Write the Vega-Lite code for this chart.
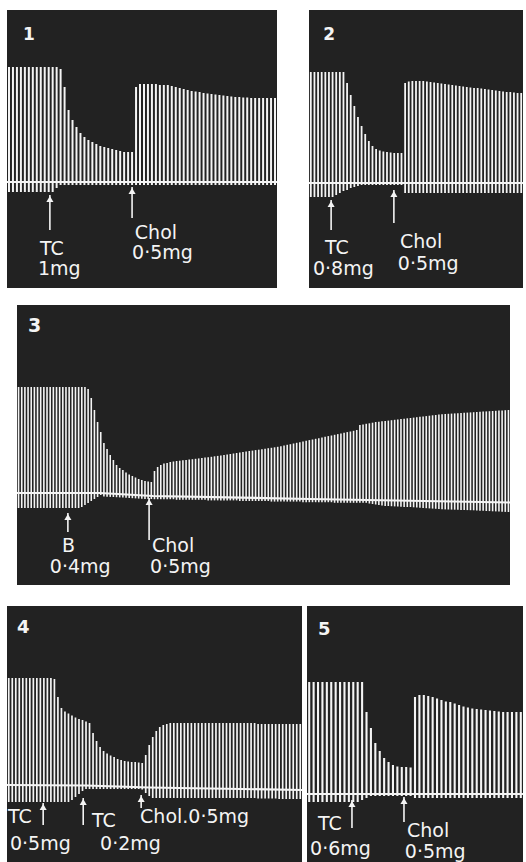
{
  "$schema": "https://vega.github.io/schema/vega-lite/v6.json",
  "background": "white",
  "padding": {"left": 7, "top": 10, "right": 0, "bottom": 0},
  "config": {"view": {"stroke": null, "fill": "#222222"}},
  "spacing": 17,
  "datasets": {
    "s1": [
      {"n":0,"t":115,"b":-10},{"n":1,"t":115,"b":-10},{"n":2,"t":115,"b":-10},{"n":3,"t":115,"b":-10},{"n":4,"t":115,"b":-10},{"n":5,"t":115,"b":-10},{"n":6,"t":115,"b":-10},{"n":7,"t":115,"b":-10},{"n":8,"t":115,"b":-10},{"n":9,"t":115,"b":-10},{"n":10,"t":115,"b":-10},{"n":11,"t":115,"b":-10},{"n":12,"t":115,"b":-6},{"n":13,"t":113,"b":-3},{"n":14,"t":95,"b":-3},{"n":15,"t":72,"b":-3},{"n":16,"t":62,"b":-3},{"n":17,"t":55,"b":-3},{"n":18,"t":49,"b":-3},{"n":19,"t":45,"b":-3},{"n":20,"t":42,"b":-3},{"n":21,"t":40,"b":-3},{"n":22,"t":38,"b":-3},{"n":23,"t":36,"b":-3},{"n":24,"t":35,"b":-3},{"n":25,"t":34,"b":-3},{"n":26,"t":33,"b":-3},{"n":27,"t":32,"b":-3},{"n":28,"t":31,"b":-3},{"n":29,"t":30,"b":-3},{"n":30,"t":30,"b":-3},{"n":31,"t":30,"b":-3},{"n":32,"t":95,"b":-3},{"n":33,"t":98,"b":-3},{"n":34,"t":98,"b":-3},{"n":35,"t":98,"b":-3},{"n":36,"t":98,"b":-3},{"n":37,"t":98,"b":-3},{"n":38,"t":97,"b":-3},{"n":39,"t":97,"b":-3},{"n":40,"t":97,"b":-3},{"n":41,"t":96,"b":-3},{"n":42,"t":95,"b":-3},{"n":43,"t":94,"b":-3},{"n":44,"t":93,"b":-3},{"n":45,"t":92,"b":-3},{"n":46,"t":91,"b":-3},{"n":47,"t":90.5,"b":-3},{"n":48,"t":90,"b":-3},{"n":49,"t":89,"b":-3},{"n":50,"t":88.5,"b":-3},{"n":51,"t":88,"b":-3},{"n":52,"t":87.5,"b":-3},{"n":53,"t":87,"b":-3},{"n":54,"t":86.5,"b":-3},{"n":55,"t":86,"b":-3},{"n":56,"t":85.5,"b":-3},{"n":57,"t":85,"b":-3},{"n":58,"t":85,"b":-3},{"n":59,"t":84.5,"b":-3},{"n":60,"t":84.5,"b":-3},{"n":61,"t":84,"b":-3},{"n":62,"t":84,"b":-3},{"n":63,"t":84,"b":-3},{"n":64,"t":84,"b":-3},{"n":65,"t":84,"b":-3},{"n":66,"t":84,"b":-3},{"n":67,"t":84,"b":-3}
    ],
    "s2": [
      {"n":0,"t":111,"b":-14},{"n":1,"t":111,"b":-14},{"n":2,"t":111,"b":-14},{"n":3,"t":111,"b":-14},{"n":4,"t":111,"b":-14},{"n":5,"t":111,"b":-14},{"n":6,"t":111,"b":-14},{"n":7,"t":111,"b":-12},{"n":8,"t":111,"b":-10},{"n":9,"t":111,"b":-8},{"n":10,"t":100,"b":-7},{"n":11,"t":88,"b":-5},{"n":12,"t":77,"b":-4},{"n":13,"t":66,"b":-3},{"n":14,"t":57,"b":-2},{"n":15,"t":49,"b":-2},{"n":16,"t":42,"b":-2},{"n":17,"t":37,"b":-2},{"n":18,"t":34,"b":-2},{"n":19,"t":32.5,"b":-2},{"n":20,"t":31.5,"b":-2},{"n":21,"t":31,"b":-2},{"n":22,"t":30.5,"b":-2},{"n":23,"t":30,"b":-2},{"n":24,"t":30,"b":-2},{"n":25,"t":30,"b":-2},{"n":26,"t":100,"b":-10},{"n":27,"t":101.5,"b":-10},{"n":28,"t":102,"b":-10},{"n":29,"t":102,"b":-10},{"n":30,"t":102,"b":-10},{"n":31,"t":102,"b":-10},{"n":32,"t":101.5,"b":-10},{"n":33,"t":101,"b":-10},{"n":34,"t":100.5,"b":-10},{"n":35,"t":100,"b":-10},{"n":36,"t":99.5,"b":-10},{"n":37,"t":99,"b":-10},{"n":38,"t":98.5,"b":-10},{"n":39,"t":98,"b":-10},{"n":40,"t":97.5,"b":-10},{"n":41,"t":97,"b":-10},{"n":42,"t":96.5,"b":-10},{"n":43,"t":96,"b":-10},{"n":44,"t":95.5,"b":-10},{"n":45,"t":95,"b":-10},{"n":46,"t":95,"b":-10},{"n":47,"t":94.5,"b":-10},{"n":48,"t":94,"b":-10},{"n":49,"t":93.5,"b":-10},{"n":50,"t":93,"b":-10},{"n":51,"t":92.5,"b":-10},{"n":52,"t":92,"b":-10},{"n":53,"t":91.5,"b":-10},{"n":54,"t":91,"b":-10},{"n":55,"t":91,"b":-10},{"n":56,"t":90.5,"b":-10},{"n":57,"t":90,"b":-10},{"n":58,"t":90,"b":-10}
    ],
    "s3": [
      {"n":0,"t":106,"b":-15},{"n":1,"t":106,"b":-15},{"n":2,"t":106,"b":-15},{"n":3,"t":106,"b":-15},{"n":4,"t":106,"b":-15},{"n":5,"t":106,"b":-15},{"n":6,"t":106,"b":-15},{"n":7,"t":106,"b":-15},{"n":8,"t":106,"b":-15},{"n":9,"t":106,"b":-15},{"n":10,"t":106,"b":-15},{"n":11,"t":106,"b":-15},{"n":12,"t":106,"b":-15},{"n":13,"t":106,"b":-15},{"n":14,"t":106,"b":-15},{"n":15,"t":106,"b":-15},{"n":16,"t":106,"b":-15},{"n":17,"t":106,"b":-15},{"n":18,"t":106,"b":-15},{"n":19,"t":106,"b":-15},{"n":20,"t":106,"b":-14},{"n":21,"t":106,"b":-12},{"n":22,"t":104,"b":-10},{"n":23,"t":95,"b":-8},{"n":24,"t":83,"b":-6},{"n":25,"t":71,"b":-4},{"n":26,"t":61,"b":-2},{"n":27,"t":50,"b":-3.5},{"n":28,"t":44,"b":-3.7},{"n":29,"t":38,"b":-3.9},{"n":30,"t":33,"b":-4},{"n":31,"t":28,"b":-4.2},{"n":32,"t":25,"b":-4.4},{"n":33,"t":23,"b":-4.6},{"n":34,"t":20.5,"b":-4.8},{"n":35,"t":18.5,"b":-5},{"n":36,"t":17,"b":-5.2},{"n":37,"t":15.5,"b":-5.4},{"n":38,"t":14,"b":-5.6},{"n":39,"t":13,"b":-5.8},{"n":40,"t":12,"b":-5.9},{"n":41,"t":11.5,"b":-6},{"n":42,"t":11,"b":-6},{"n":43,"t":22,"b":-6.2},{"n":44,"t":26,"b":-6.2},{"n":45,"t":28,"b":-6.2},{"n":46,"t":29.5,"b":-6.2},{"n":47,"t":30,"b":-6.2},{"n":48,"t":31,"b":-6.2},{"n":49,"t":31.5,"b":-6.2},{"n":50,"t":32,"b":-6.8},{"n":51,"t":32.3,"b":-6.8},{"n":52,"t":32.7,"b":-6.8},{"n":53,"t":33,"b":-6.8},{"n":54,"t":33.5,"b":-6.8},{"n":55,"t":33.8,"b":-6.8},{"n":56,"t":34.2,"b":-6.8},{"n":57,"t":34.6,"b":-6.8},{"n":58,"t":35,"b":-6.8},{"n":59,"t":35.4,"b":-6.8},{"n":60,"t":35.8,"b":-7.4},{"n":61,"t":36.2,"b":-7.4},{"n":62,"t":36.7,"b":-7.4},{"n":63,"t":37.1,"b":-7.4},{"n":64,"t":37.6,"b":-7.4},{"n":65,"t":38,"b":-7.4},{"n":66,"t":38.5,"b":-7.4},{"n":67,"t":39,"b":-7.4},{"n":68,"t":39.5,"b":-7.4},{"n":69,"t":40,"b":-7.4},{"n":70,"t":40.5,"b":-8},{"n":71,"t":41,"b":-8},{"n":72,"t":41.5,"b":-8},{"n":73,"t":42,"b":-8},{"n":74,"t":42.4,"b":-8},{"n":75,"t":42.9,"b":-8},{"n":76,"t":43.3,"b":-8},{"n":77,"t":43.8,"b":-8},{"n":78,"t":44.3,"b":-8},{"n":79,"t":44.8,"b":-8},{"n":80,"t":45.2,"b":-8.6},{"n":81,"t":45.7,"b":-8.6},{"n":82,"t":46.2,"b":-8.6},{"n":83,"t":46.8,"b":-8.6},{"n":84,"t":47.5,"b":-8.6},{"n":85,"t":48.2,"b":-8.6},{"n":86,"t":48.8,"b":-8.6},{"n":87,"t":49.5,"b":-8.6},{"n":88,"t":50.2,"b":-8.6},{"n":89,"t":50.8,"b":-8.6},{"n":90,"t":51.5,"b":-9.2},{"n":91,"t":52.2,"b":-9.2},{"n":92,"t":52.9,"b":-9.2},{"n":93,"t":53.5,"b":-9.2},{"n":94,"t":54.2,"b":-9.2},{"n":95,"t":54.8,"b":-9.2},{"n":96,"t":55.5,"b":-9.2},{"n":97,"t":56.2,"b":-9.2},{"n":98,"t":56.9,"b":-9.2},{"n":99,"t":57.5,"b":-9.2},{"n":100,"t":58.2,"b":-9.8},{"n":101,"t":58.9,"b":-9.8},{"n":102,"t":59.6,"b":-9.8},{"n":103,"t":60.2,"b":-9.8},{"n":104,"t":60.9,"b":-9.8},{"n":105,"t":61.5,"b":-9.8},{"n":106,"t":62.2,"b":-9.8},{"n":107,"t":63,"b":-9.8},{"n":108,"t":68,"b":-9.8},{"n":109,"t":68.6,"b":-9.8},{"n":110,"t":69.2,"b":-9.8},{"n":111,"t":69.7,"b":-10.5},{"n":112,"t":70.3,"b":-11},{"n":113,"t":71,"b":-11.5},{"n":114,"t":71.3,"b":-12},{"n":115,"t":71.7,"b":-12.5},{"n":116,"t":72,"b":-13},{"n":117,"t":72.4,"b":-13},{"n":118,"t":72.8,"b":-13.2},{"n":119,"t":73.2,"b":-13.4},{"n":120,"t":73.6,"b":-13.6},{"n":121,"t":73.9,"b":-13.8},{"n":122,"t":74.3,"b":-14},{"n":123,"t":74.7,"b":-14},{"n":124,"t":75,"b":-14},{"n":125,"t":75.4,"b":-14.3},{"n":126,"t":75.8,"b":-14.5},{"n":127,"t":76.2,"b":-14.7},{"n":128,"t":76.5,"b":-15},{"n":129,"t":76.9,"b":-15.2},{"n":130,"t":77.3,"b":-15.4},{"n":131,"t":77.7,"b":-15.6},{"n":132,"t":78,"b":-15.8},{"n":133,"t":78.4,"b":-16},{"n":134,"t":78.8,"b":-16.2},{"n":135,"t":79,"b":-16.4},{"n":136,"t":79.2,"b":-16.5},{"n":137,"t":79.4,"b":-16.6},{"n":138,"t":79.6,"b":-16.7},{"n":139,"t":79.8,"b":-16.8},{"n":140,"t":80,"b":-16.9},{"n":141,"t":80.2,"b":-17},{"n":142,"t":80.4,"b":-17.1},{"n":143,"t":80.6,"b":-17.2},{"n":144,"t":80.8,"b":-17.3},{"n":145,"t":81,"b":-17.5},{"n":146,"t":81.2,"b":-17.7},{"n":147,"t":81.4,"b":-17.8},{"n":148,"t":81.6,"b":-18},{"n":149,"t":81.8,"b":-18.1},{"n":150,"t":82,"b":-18.3},{"n":151,"t":82.2,"b":-18.4},{"n":152,"t":82.4,"b":-18.6},{"n":153,"t":82.6,"b":-18.7},{"n":154,"t":82.8,"b":-18.9},{"n":155,"t":83,"b":-19}
    ],
    "s4": [
      {"n":0,"t":107,"b":-17},{"n":1,"t":107,"b":-17},{"n":2,"t":107,"b":-17},{"n":3,"t":107,"b":-17},{"n":4,"t":107,"b":-17},{"n":5,"t":107,"b":-17},{"n":6,"t":107,"b":-17},{"n":7,"t":107,"b":-17},{"n":8,"t":107,"b":-17},{"n":9,"t":107,"b":-17},{"n":10,"t":107,"b":-17},{"n":11,"t":107,"b":-17},{"n":12,"t":107,"b":-17},{"n":13,"t":106,"b":-17},{"n":14,"t":88,"b":-17},{"n":15,"t":77,"b":-17},{"n":16,"t":73.5,"b":-17},{"n":17,"t":71.5,"b":-17},{"n":18,"t":69.5,"b":-15},{"n":19,"t":67.5,"b":-12},{"n":20,"t":66,"b":-9},{"n":21,"t":65,"b":-6},{"n":22,"t":63.5,"b":-4},{"n":23,"t":62,"b":-4},{"n":24,"t":52,"b":-4},{"n":25,"t":44,"b":-4},{"n":26,"t":38,"b":-4},{"n":27,"t":34,"b":-4},{"n":28,"t":31.5,"b":-4},{"n":29,"t":29.5,"b":-4},{"n":30,"t":28,"b":-4},{"n":31,"t":26,"b":-4},{"n":32,"t":25,"b":-4},{"n":33,"t":24,"b":-4},{"n":34,"t":23.5,"b":-4},{"n":35,"t":23,"b":-4},{"n":36,"t":23,"b":-4},{"n":37,"t":22.5,"b":-4},{"n":38,"t":22,"b":-4.5},{"n":39,"t":30,"b":-8},{"n":40,"t":40,"b":-11},{"n":41,"t":48,"b":-13},{"n":42,"t":54,"b":-13},{"n":43,"t":58,"b":-13},{"n":44,"t":60,"b":-13},{"n":45,"t":61,"b":-13},{"n":46,"t":62,"b":-13},{"n":47,"t":62,"b":-13},{"n":48,"t":62,"b":-13},{"n":49,"t":62,"b":-13},{"n":50,"t":62,"b":-13},{"n":51,"t":62,"b":-13},{"n":52,"t":62,"b":-13},{"n":53,"t":62,"b":-13},{"n":54,"t":62,"b":-13},{"n":55,"t":62,"b":-13},{"n":56,"t":62,"b":-13},{"n":57,"t":62,"b":-13},{"n":58,"t":62,"b":-13},{"n":59,"t":62,"b":-13},{"n":60,"t":62,"b":-13},{"n":61,"t":62,"b":-13},{"n":62,"t":62,"b":-13},{"n":63,"t":62,"b":-13},{"n":64,"t":62,"b":-13},{"n":65,"t":62,"b":-13},{"n":66,"t":62,"b":-13},{"n":67,"t":62,"b":-13},{"n":68,"t":62,"b":-13},{"n":69,"t":62,"b":-13},{"n":70,"t":62,"b":-13},{"n":71,"t":61,"b":-13.5},{"n":72,"t":61,"b":-13.5},{"n":73,"t":61,"b":-13.5},{"n":74,"t":61,"b":-13.5},{"n":75,"t":61,"b":-13.5},{"n":76,"t":61,"b":-13.5},{"n":77,"t":61,"b":-14},{"n":78,"t":61,"b":-14},{"n":79,"t":61,"b":-14},{"n":80,"t":61,"b":-14},{"n":81,"t":61,"b":-14},{"n":82,"t":61,"b":-14},{"n":83,"t":61,"b":-14}
    ],
    "s5": [
      {"n":0,"t":112,"b":-8},{"n":1,"t":112,"b":-8},{"n":2,"t":112,"b":-8},{"n":3,"t":112,"b":-8},{"n":4,"t":112,"b":-8},{"n":5,"t":112,"b":-8},{"n":6,"t":112,"b":-8},{"n":7,"t":112,"b":-8},{"n":8,"t":112,"b":-8},{"n":9,"t":112,"b":-8},{"n":10,"t":112,"b":-8},{"n":11,"t":112,"b":-8},{"n":12,"t":112,"b":-6},{"n":13,"t":82,"b":-4},{"n":14,"t":66,"b":-2},{"n":15,"t":51,"b":-2},{"n":16,"t":43,"b":-2},{"n":17,"t":36,"b":-2},{"n":18,"t":32,"b":-2},{"n":19,"t":29,"b":-2},{"n":20,"t":27.5,"b":-2},{"n":21,"t":27,"b":-2},{"n":22,"t":27,"b":-2},{"n":23,"t":26.5,"b":-2},{"n":24,"t":97,"b":-4},{"n":25,"t":99,"b":-4},{"n":26,"t":99,"b":-4},{"n":27,"t":98,"b":-4},{"n":28,"t":97,"b":-4},{"n":29,"t":95.5,"b":-4},{"n":30,"t":94,"b":-4},{"n":31,"t":92.5,"b":-4},{"n":32,"t":92,"b":-4},{"n":33,"t":90.5,"b":-4},{"n":34,"t":89,"b":-4},{"n":35,"t":87.5,"b":-4},{"n":36,"t":86.5,"b":-4},{"n":37,"t":85.5,"b":-4},{"n":38,"t":85,"b":-4},{"n":39,"t":84.5,"b":-4},{"n":40,"t":84,"b":-4},{"n":41,"t":83.5,"b":-4},{"n":42,"t":83,"b":-4},{"n":43,"t":82.5,"b":-4},{"n":44,"t":82,"b":-4},{"n":45,"t":82,"b":-4},{"n":46,"t":82,"b":-4},{"n":47,"t":82,"b":-4},{"n":48,"t":82,"b":-4}
    ],
    "base1": [{"n":-0.5,"t":0},{"n":67.5,"t":0}],
    "base2": [{"n":-0.5,"t":0},{"n":58.5,"t":0}],
    "base3": [{"n":-0.5,"t":0},{"n":25.8,"t":0},{"n":42.5,"t":-3},{"n":92.2,"t":-6},{"n":155.5,"t":-9.5}],
    "base4": [{"n":-0.5,"t":0},{"n":22,"t":-0.5},{"n":40,"t":-2.5},{"n":83.5,"t":-5}],
    "base5": [{"n":-0.5,"t":0},{"n":48.5,"t":0}],
    "arr1": [{"n":10.3,"t":-13,"b":-48},{"n":31.0,"t":-5,"b":-36}],
    "arr2": [{"n":5.6,"t":-17,"b":-47},{"n":22.9,"t":-7,"b":-40}],
    "arr3": [{"n":15.6,"t":-20,"b":-39},{"n":41.3,"t":-5,"b":-47}],
    "arr4": [{"n":9.8,"t":-18,"b":-40},{"n":21.2,"t":-13,"b":-40},{"n":37.7,"t":-10,"b":-23}],
    "arr5": [{"n":9.7,"t":-6,"b":-34},{"n":21.5,"t":-3,"b":-28}],
    "lab1": [{"n":7.8,"t":-73,"label":"TC"},{"n":7.3,"t":-93,"label":"1mg"},{"n":31.7,"t":-57,"label":"Chol"},{"n":31.0,"t":-77,"label":"0·5mg"}],
    "lab2": [{"n":3.9,"t":-71,"label":"TC"},{"n":0.6,"t":-92,"label":"0·8mg"},{"n":24.6,"t":-65,"label":"Chol"},{"n":24.0,"t":-87,"label":"0·5mg"}],
    "lab3": [{"n":13.7,"t":-59,"label":"B"},{"n":9.9,"t":-80,"label":"0·4mg"},{"n":42.2,"t":-59,"label":"Chol"},{"n":41.6,"t":-80,"label":"0·5mg"}],
    "lab4": [{"n":-0.2,"t":-38,"label":"TC"},{"n":23.7,"t":-42,"label":"TC"},{"n":37.4,"t":-38,"label":"Chol.0·5mg"},{"n":0.35,"t":-65,"label":"0·5mg"},{"n":26,"t":-65,"label":"0·2mg"}],
    "lab5": [{"n":2.0,"t":-36,"label":"TC"},{"n":0.2,"t":-61,"label":"0·6mg"},{"n":22.2,"t":-43,"label":"Chol"},{"n":21.7,"t":-64,"label":"0·5mg"}],
    "num1": [{"n":3.5,"t":142,"label":"1"}],
    "num2": [{"n":3.4,"t":143,"label":"2"}],
    "num3": [{"n":3.0,"t":161,"label":"3"}],
    "num4": [{"n":2.35,"t":152,"label":"4"}],
    "num5": [{"n":2.0,"t":159,"label":"5"}]
  },
  "vconcat": [
    {
      "spacing": 32,
      "bounds": "flush",
      "hconcat": [
        {
          "width": 270, "height": 278,
          "encoding": {
            "x": {"field": "n", "type": "quantitative", "scale": {"domain": [-0.5, 67.5], "nice": false, "zero": false}, "axis": null},
            "y": {"field": "t", "type": "quantitative", "scale": {"domain": [-106, 172], "nice": false, "zero": false}, "axis": null}
          },
          "layer": [
            {"data": {"name": "s1"}, "mark": {"type": "rule", "color": "#f4f4f4", "strokeWidth": 2}, "encoding": {"y2": {"field": "b"}}},
            {"data": {"name": "base1"}, "mark": {"type": "line", "color": "#f4f4f4", "strokeWidth": 2.2, "clip": true}, "encoding": {}},
            {"data": {"name": "arr1"}, "mark": {"type": "rule", "color": "#f4f4f4", "strokeWidth": 1.6}, "encoding": {"y2": {"field": "b"}}},
            {"data": {"name": "arr1"}, "mark": {"type": "point", "shape": "triangle-up", "filled": true, "size": 50, "color": "#f4f4f4", "opacity": 1, "yOffset": 4}, "encoding": {}},
            {"data": {"name": "lab1"}, "mark": {"type": "text", "color": "#f4f4f4", "font": "DejaVu Sans", "fontSize": 19, "align": "left", "baseline": "alphabetic"}, "encoding": {"text": {"field": "label"}}},
            {"data": {"name": "num1"}, "mark": {"type": "text", "color": "#f4f4f4", "font": "DejaVu Sans", "fontSize": 17, "fontWeight": "bold", "align": "left", "baseline": "alphabetic"}, "encoding": {"text": {"field": "label"}}}
          ]
        },
        {
          "width": 214, "height": 278,
          "encoding": {
            "x": {"field": "n", "type": "quantitative", "scale": {"domain": [-0.5, 58.5], "nice": false, "zero": false}, "axis": null},
            "y": {"field": "t", "type": "quantitative", "scale": {"domain": [-105, 173], "nice": false, "zero": false}, "axis": null}
          },
          "layer": [
            {"data": {"name": "s2"}, "mark": {"type": "rule", "color": "#f4f4f4", "strokeWidth": 1.8}, "encoding": {"y2": {"field": "b"}}},
            {"data": {"name": "base2"}, "mark": {"type": "line", "color": "#f4f4f4", "strokeWidth": 2.2, "clip": true}, "encoding": {}},
            {"data": {"name": "arr2"}, "mark": {"type": "rule", "color": "#f4f4f4", "strokeWidth": 1.6}, "encoding": {"y2": {"field": "b"}}},
            {"data": {"name": "arr2"}, "mark": {"type": "point", "shape": "triangle-up", "filled": true, "size": 50, "color": "#f4f4f4", "opacity": 1, "yOffset": 4}, "encoding": {}},
            {"data": {"name": "lab2"}, "mark": {"type": "text", "color": "#f4f4f4", "font": "DejaVu Sans", "fontSize": 19, "align": "left", "baseline": "alphabetic"}, "encoding": {"text": {"field": "label"}}},
            {"data": {"name": "num2"}, "mark": {"type": "text", "color": "#f4f4f4", "font": "DejaVu Sans", "fontSize": 17, "fontWeight": "bold", "align": "left", "baseline": "alphabetic"}, "encoding": {"text": {"field": "label"}}}
          ]
        }
      ]
    },
    {
      "spacing": 9,
      "bounds": "flush",
      "hconcat": [
        {
          "width": 1, "height": 284,
          "view": {"fill": "white", "stroke": null},
          "data": {"values": []},
          "mark": {"type": "rule", "opacity": 0},
          "encoding": {}
        },
        {
          "width": 493, "height": 280,
          "encoding": {
            "x": {"field": "n", "type": "quantitative", "scale": {"domain": [-0.5, 155.5], "nice": false, "zero": false}, "axis": null},
            "y": {"field": "t", "type": "quantitative", "scale": {"domain": [-92, 188], "nice": false, "zero": false}, "axis": null}
          },
          "layer": [
            {"data": {"name": "s3"}, "mark": {"type": "rule", "color": "#f4f4f4", "strokeWidth": 1.6}, "encoding": {"y2": {"field": "b"}}},
            {"data": {"name": "base3"}, "mark": {"type": "line", "color": "#f4f4f4", "strokeWidth": 2.2, "clip": true}, "encoding": {}},
            {"data": {"name": "arr3"}, "mark": {"type": "rule", "color": "#f4f4f4", "strokeWidth": 1.6}, "encoding": {"y2": {"field": "b"}}},
            {"data": {"name": "arr3"}, "mark": {"type": "point", "shape": "triangle-up", "filled": true, "size": 50, "color": "#f4f4f4", "opacity": 1, "yOffset": 4}, "encoding": {}},
            {"data": {"name": "lab3"}, "mark": {"type": "text", "color": "#f4f4f4", "font": "DejaVu Sans", "fontSize": 19, "align": "left", "baseline": "alphabetic"}, "encoding": {"text": {"field": "label"}}},
            {"data": {"name": "num3"}, "mark": {"type": "text", "color": "#f4f4f4", "font": "DejaVu Sans", "fontSize": 19, "fontWeight": "bold", "align": "left", "baseline": "alphabetic"}, "encoding": {"text": {"field": "label"}}}
          ]
        }
      ]
    },
    {
      "spacing": 5,
      "bounds": "flush",
      "hconcat": [
        {
          "width": 295, "height": 256,
          "encoding": {
            "x": {"field": "n", "type": "quantitative", "scale": {"domain": [-0.5, 83.5], "nice": false, "zero": false}, "axis": null},
            "y": {"field": "t", "type": "quantitative", "scale": {"domain": [-77, 179], "nice": false, "zero": false}, "axis": null}
          },
          "layer": [
            {"data": {"name": "s4"}, "mark": {"type": "rule", "color": "#f4f4f4", "strokeWidth": 1.7}, "encoding": {"y2": {"field": "b"}}},
            {"data": {"name": "base4"}, "mark": {"type": "line", "color": "#f4f4f4", "strokeWidth": 2.2, "clip": true}, "encoding": {}},
            {"data": {"name": "arr4"}, "mark": {"type": "rule", "color": "#f4f4f4", "strokeWidth": 1.6}, "encoding": {"y2": {"field": "b"}}},
            {"data": {"name": "arr4"}, "mark": {"type": "point", "shape": "triangle-up", "filled": true, "size": 50, "color": "#f4f4f4", "opacity": 1, "yOffset": 4}, "encoding": {}},
            {"data": {"name": "lab4"}, "mark": {"type": "text", "color": "#f4f4f4", "font": "DejaVu Sans", "fontSize": 19, "align": "left", "baseline": "alphabetic"}, "encoding": {"text": {"field": "label"}}},
            {"data": {"name": "num4"}, "mark": {"type": "text", "color": "#f4f4f4", "font": "DejaVu Sans", "fontSize": 18, "fontWeight": "bold", "align": "left", "baseline": "alphabetic"}, "encoding": {"text": {"field": "label"}}}
          ]
        },
        {
          "width": 216, "height": 256,
          "encoding": {
            "x": {"field": "n", "type": "quantitative", "scale": {"domain": [-0.5, 48.5], "nice": false, "zero": false}, "axis": null},
            "y": {"field": "t", "type": "quantitative", "scale": {"domain": [-68, 188], "nice": false, "zero": false}, "axis": null}
          },
          "layer": [
            {"data": {"name": "s5"}, "mark": {"type": "rule", "color": "#f4f4f4", "strokeWidth": 2.1}, "encoding": {"y2": {"field": "b"}}},
            {"data": {"name": "base5"}, "mark": {"type": "line", "color": "#f4f4f4", "strokeWidth": 2.2, "clip": true}, "encoding": {}},
            {"data": {"name": "arr5"}, "mark": {"type": "rule", "color": "#f4f4f4", "strokeWidth": 1.6}, "encoding": {"y2": {"field": "b"}}},
            {"data": {"name": "arr5"}, "mark": {"type": "point", "shape": "triangle-up", "filled": true, "size": 50, "color": "#f4f4f4", "opacity": 1, "yOffset": 4}, "encoding": {}},
            {"data": {"name": "lab5"}, "mark": {"type": "text", "color": "#f4f4f4", "font": "DejaVu Sans", "fontSize": 19, "align": "left", "baseline": "alphabetic"}, "encoding": {"text": {"field": "label"}}},
            {"data": {"name": "num5"}, "mark": {"type": "text", "color": "#f4f4f4", "font": "DejaVu Sans", "fontSize": 18, "fontWeight": "bold", "align": "left", "baseline": "alphabetic"}, "encoding": {"text": {"field": "label"}}}
          ]
        }
      ]
    }
  ]
}
